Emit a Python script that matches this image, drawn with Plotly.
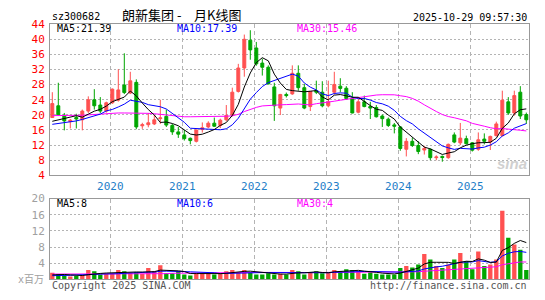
import plotly.graph_objects as go
import pandas as pd

# ---------------- data (monthly, 2019-03 .. 2025-10) ----------------
months = pd.date_range("2019-03-01", periods=80, freq="MS")

opens = [19.3, 22.4, 19.9, 18.2, 19.3, 18.7, 21.0, 24.0, 22.6, 21.0,
         23.2, 23.9, 27.9, 25.8, 28.6, 17.1, 17.4, 17.6, 19.0, 19.6,
         17.2, 15.5, 14.7, 13.8, 13.0, 16.1, 16.8, 17.8, 17.2, 18.7,
         19.85, 26.2, 32.4, 39.75, 37.7, 33.7, 32.6, 27.4, 21.8, 25.4,
         25.55, 31.0, 27.2, 22.2, 26.4, 26.0, 22.4, 26.0, 27.6, 27.05,
         24.3, 20.7, 23.45, 22.2, 21.95, 19.7, 18.86, 17.35, 16.8, 10.9,
         13.0, 11.9, 10.7, 10.9, 8.67, 9.0, 8.67, 14.7, 12.6, 13.7,
         12.6, 10.9, 13.6, 12.8, 14.5, 14.5, 23.45, 20.5, 26.0, 20.1]
highs = [26.0, 28.5, 20.5, 18.9, 20.3, 21.4, 24.9, 26.8, 24.7, 23.5,
         27.0, 32.1, 36.3, 31.4, 29.4, 17.9, 20.5, 20.0, 24.0, 21.4,
         17.6, 16.8, 16.0, 14.0, 16.1, 18.0, 18.3, 19.3, 19.0, 22.6,
         27.2, 33.5, 41.25, 42.4, 39.3, 34.9, 33.1, 28.5, 25.55, 25.9,
         33.1, 33.1, 28.2, 26.2, 29.05, 28.9, 29.05, 31.4, 29.7, 27.6,
         26.0, 24.3, 25.1, 23.45, 22.6, 20.1, 19.3, 17.86, 17.0, 13.85,
         14.0, 13.0, 11.8, 11.1, 9.3, 9.25, 12.4, 15.35, 17.86, 14.5,
         12.8, 15.35, 15.1, 14.5, 18.2, 26.4, 24.7, 26.4, 27.6, 20.6]
lows = [19.2, 19.8, 15.9, 16.4, 16.4, 15.9, 20.5, 21.4, 20.5, 20.6,
        22.9, 23.5, 25.5, 25.5, 16.2, 16.3, 16.7, 17.3, 17.6, 16.8,
        14.7, 13.9, 13.2, 12.2, 12.7, 15.3, 16.5, 16.8, 16.5, 18.3,
        19.6, 25.9, 30.1, 34.6, 33.0, 30.4, 28.05, 18.4, 19.95, 24.6,
        25.3, 26.4, 21.5, 21.0, 25.5, 22.0, 22.0, 25.4, 26.0, 24.0,
        20.4, 20.4, 22.0, 18.9, 19.3, 16.8, 16.8, 15.1, 10.5, 9.0,
        11.5, 9.6, 9.5, 8.0, 8.0, 7.6, 8.4, 12.5, 12.0, 12.2,
        10.3, 10.5, 12.2, 10.7, 14.3, 14.3, 20.0, 19.8, 18.9, 17.6]
closes = [23.0, 20.0, 18.4, 18.6, 18.9, 21.0, 24.0, 22.4, 21.0, 23.2,
          26.8, 26.6, 25.9, 29.0, 16.8, 17.4, 17.9, 18.7, 19.2, 17.3,
          15.5, 14.9, 13.7, 13.2, 16.0, 16.6, 17.8, 17.0, 18.6, 19.85,
          26.0, 32.4, 40.0, 37.2, 33.5, 32.6, 28.2, 22.4, 25.4, 25.1,
          31.0, 27.2, 21.8, 26.2, 26.0, 22.4, 23.45, 28.05, 27.0, 24.3,
          20.5, 23.45, 22.2, 21.8, 19.5, 19.0, 17.2, 17.0, 11.1, 13.0,
          11.9, 10.3, 11.1, 8.67, 8.85, 8.7, 12.2, 12.8, 13.85, 12.35,
          10.67, 13.4, 13.0, 14.3, 17.6, 23.9, 20.5, 25.1, 19.7, 18.7]
# volume, millions
volumes = [1.6, 1.3, 0.9, 0.7, 0.8, 1.0, 2.3, 2.0, 1.2, 1.3,
           1.4, 2.3, 2.0, 1.6, 1.8, 1.3, 2.8, 2.0, 3.5, 1.5,
           1.5, 2.0, 1.2, 0.95, 1.5, 1.35, 1.5, 1.2, 1.5, 2.0,
           2.3, 1.75, 2.3, 1.75, 1.2, 1.2, 1.5, 1.2, 1.35, 1.2,
           2.3, 2.0, 1.2, 1.75, 2.0, 1.5, 1.75, 2.3, 2.0, 2.5,
           2.3, 2.0, 1.35, 1.75, 1.35, 1.2, 1.2, 1.2, 2.8, 3.3,
           2.9, 3.7, 6.3, 4.9, 3.3, 2.8, 3.7, 4.9, 6.5, 4.5,
           2.5, 6.9, 3.3, 3.7, 4.9, 17.0, 10.3, 8.6, 7.3, 2.3]

# moving-average values before the window is full
ma5_head = [18.3, 18.7, 19.1, 19.4]
ma10_head = [17.5, 17.7, 17.9, 18.1, 18.4, 18.8, 19.3, 19.8, 20.2]
ma30_head = [19.8, 19.8, 19.8, 19.8, 19.9, 19.9, 20.0, 20.1, 20.2, 20.3,
             20.5, 20.5, 20.5, 20.5, 20.5, 20.4, 20.4, 20.3, 20.1, 20.0,
             19.8, 19.6, 19.5, 19.5, 19.5, 19.5, 19.5, 19.5, 19.6]
vma5_head = [1.1, 1.2, 1.2, 1.1]
vma10_head = [0.9, 0.9, 1.0, 1.0, 1.1, 1.1, 1.2, 1.2, 1.3]
vma30_head = [1.3, 1.3, 1.3, 1.3, 1.3, 1.3, 1.3, 1.3, 1.3, 1.3,
              1.4, 1.4, 1.4, 1.4, 1.4, 1.4, 1.4, 1.4, 1.4, 1.4,
              1.5, 1.5, 1.5, 1.5, 1.5, 1.5, 1.5, 1.5, 1.5]

price_ticks = [4, 8, 12, 16, 20, 24, 28, 32, 36, 40, 44]
vol_ticks = [4, 8, 12, 16, 20]
ma_labels = ["MA5:21.39", "MA10:17.39", "MA30:15.46"]
vma_labels = ["MA5:8", "MA10:6", "MA30:4"]
title_left = "朗新集团 -"
title_right = "月K线图"
code_text = "sz300682"
time_text = "2025-10-29 09:57:30"

# ---------------- derived ----------------
idx = list(range(len(closes)))
cs = pd.Series(closes)
vs = pd.Series(volumes)

def ma(series, n, head):
    return list(head) + series.rolling(n).mean().iloc[n - 1:].tolist()

ma5, ma10, ma30 = ma(cs, 5, ma5_head), ma(cs, 10, ma10_head), ma(cs, 30, ma30_head)
vma5, vma10, vma30 = ma(vs, 5, vma5_head), ma(vs, 10, vma10_head), ma(vs, 30, vma30_head)

RED = "#ff5151"
GREEN = "#00a600"
vol_colors = [RED if c >= o else GREEN for o, c in zip(opens, closes)]

year_pos = [i - 0.33 for i, m in enumerate(months) if m.month == 1]
year_txt = [str(m.year) for m in months if m.month == 1]

W, H = 545, 300
def px(x): return x / W
def py(y): return 1 - y / H

MONO = "DejaVu Sans Mono"

fig = go.Figure()
fig.add_trace(go.Candlestick(
    x=idx, open=opens, high=highs, low=lows, close=closes,
    increasing=dict(line=dict(color=RED, width=1), fillcolor=RED),
    decreasing=dict(line=dict(color=GREEN, width=1), fillcolor=GREEN),
    whiskerwidth=0, xaxis="x", yaxis="y", hoverinfo="skip"))
for vals, col in [(ma30, "#ff00ff"), (ma10, "#0000ff"), (ma5, "#000000")]:
    fig.add_trace(go.Scatter(x=idx, y=vals, mode="lines",
                             line=dict(color=col, width=1),
                             xaxis="x", yaxis="y", hoverinfo="skip"))
fig.add_trace(go.Bar(x=idx, y=volumes, marker=dict(color=vol_colors, line=dict(width=0)),
                     width=0.72, xaxis="x2", yaxis="y2", hoverinfo="skip"))
for vals, col in [(vma30, "#ff00ff"), (vma10, "#0000ff"), (vma5, "#000000")]:
    fig.add_trace(go.Scatter(x=idx, y=vals, mode="lines",
                             line=dict(color=col, width=1),
                             xaxis="x2", yaxis="y2", hoverinfo="skip"))

xr = [(50 - 52.3) / 6, (529 - 52.3) / 6]
xcommon = dict(range=xr, showline=True, mirror=True, linecolor="#999999", linewidth=1,
               showgrid=True, gridcolor="#b4b4b4", griddash="4px,3px", gridwidth=1,
               tickvals=year_pos, zeroline=False, fixedrange=True)
fig.update_layout(
    width=W, height=H, margin=dict(l=0, r=0, t=0, b=0),
    paper_bgcolor="white", plot_bgcolor="white", showlegend=False,
    barmode="overlay",
    xaxis=dict(domain=[px(50), px(529)], anchor="y", ticktext=year_txt,
               tickfont=dict(family=MONO, size=11, color="#1f80c8"),
               rangeslider=dict(visible=False), ticks="", **xcommon),
    xaxis2=dict(domain=[px(50), px(529)], anchor="y2", showticklabels=False,
                ticks="", **xcommon),
    yaxis=dict(domain=[py(177), py(19)], range=[4, 44], tickvals=price_ticks,
               tickfont=dict(family=MONO, size=11, color="#ff0000"),
               showgrid=True, gridcolor="#b4b4b4", griddash="2px,2px",
               showline=True, mirror=True, linecolor="#999999", zeroline=False,
               ticks="outside", ticklen=2, tickcolor="rgba(0,0,0,0)", anchor="x"),
    yaxis2=dict(domain=[py(285.7), py(201.3)], range=[0, 20], tickvals=vol_ticks,
                tickfont=dict(family=MONO, size=11, color="#a0a0a0"),
                showgrid=True, gridcolor="#b4b4b4", griddash="2px,2px",
                showline=True, mirror=True, linecolor="#999999", zeroline=False,
                ticks="outside", ticklen=2, tickcolor="rgba(0,0,0,0)", anchor="x2"),
)

ann = []
def text(x, y, s, color="#000", size=10, xanchor="left", family=MONO, **kw):
    ann.append(dict(x=px(x), y=py(y), xref="paper", yref="paper", text=s,
                    showarrow=False, xanchor=xanchor, yanchor="middle",
                    font=dict(family=family, size=size, color=color), **kw))

text(50, 11, code_text, size=10)
text(120, 9, title_left, size=13, family="Noto Sans CJK SC")
text(192, 9, title_right, size=13, family="Noto Sans CJK SC")
text(529, 11.5, time_text, size=10, xanchor="right")
for s, x, c in zip(ma_labels, [55, 174.5, 295], ["#000000", "#0000ff", "#ff00ff"]):
    text(x, 23.5, s, color=c, size=10)
for s, x, c in zip(vma_labels, [55, 174.5, 295], ["#000000", "#0000ff", "#ff00ff"]):
    text(x, 206.5, s, color=c, size=10)
text(46, 286, "x百万", color="#a0a0a0", size=10, xanchor="right",
     family="DejaVu Sans Mono, Noto Sans CJK SC")
text(50, 292.5, "Copyright 2025 SINA.COM", color="#555555", size=10)
text(529, 292.5, "http://finance.sina.com.cn", color="#555555", size=10, xanchor="right")
text(512, 165, "<b><i>sina</i></b>", color="#d0d0d0", size=15, xanchor="center",
     family="Arial, Liberation Sans")
fig.update_layout(annotations=ann)

fig.write_html("out.html")
